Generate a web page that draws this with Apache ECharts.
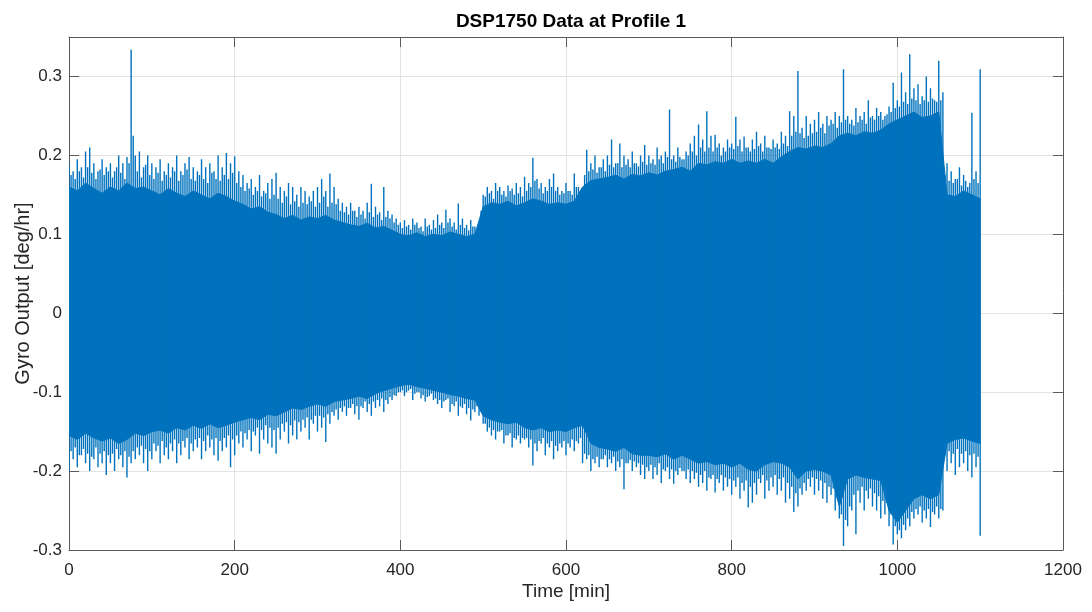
<!DOCTYPE html>
<html>
<head>
<meta charset="utf-8">
<script src="https://cdn.jsdelivr.net/npm/echarts@6/dist/echarts.min.js"></script>
<style>
html,body{margin:0;padding:0;background:#fff;}
#chart{width:1092px;height:612px;}
</style>
</head>
<body>
<div id="chart"></div>
<script>
// ---- data ----
const titleText = 'DSP1750 Data at Profile 1';
const xName = 'Time [min]';
const yName = 'Gyro Output [deg/hr]';
const xTicks = [0, 200, 400, 600, 800, 1000, 1200];
const yTicks = [-0.3, -0.2, -0.1, 0, 0.1, 0.2, 0.3];

// solid core of the noise band, one value every 10 min (t = 0 .. 1100)
const coreStep = 10;
const coreHi = [
  0.16,0.155,0.165,0.158,0.152,0.16,0.155,0.165,0.158,0.16,
  0.155,0.15,0.158,0.152,0.148,0.155,0.15,0.145,0.152,0.148,
  0.142,0.138,0.132,0.135,0.128,0.125,0.12,0.124,0.118,0.122,
  0.12,0.124,0.118,0.115,0.112,0.11,0.114,0.108,0.11,0.105,
  0.1,0.098,0.102,0.097,0.1,0.098,0.103,0.1,0.097,0.1,
  0.135,0.14,0.138,0.142,0.136,0.14,0.145,0.142,0.138,0.14,
  0.138,0.142,0.16,0.168,0.17,0.172,0.175,0.17,0.176,0.174,
  0.178,0.175,0.18,0.182,0.185,0.18,0.19,0.188,0.192,0.19,
  0.195,0.19,0.193,0.19,0.195,0.19,0.198,0.205,0.21,0.208,
  0.212,0.21,0.215,0.225,0.228,0.225,0.23,0.228,0.232,0.24,
  0.245,0.25,0.255,0.248,0.25,0.255,0.15,0.148,0.155,0.15,
  0.145
];
const coreLo = [
  -0.155,-0.16,-0.152,-0.158,-0.162,-0.158,-0.165,-0.16,-0.152,-0.155,
  -0.15,-0.148,-0.152,-0.145,-0.148,-0.142,-0.146,-0.14,-0.145,-0.142,
  -0.138,-0.135,-0.132,-0.135,-0.128,-0.13,-0.125,-0.12,-0.122,-0.118,
  -0.115,-0.118,-0.112,-0.11,-0.108,-0.105,-0.108,-0.102,-0.098,-0.095,
  -0.092,-0.09,-0.093,-0.095,-0.098,-0.1,-0.103,-0.105,-0.108,-0.11,
  -0.13,-0.135,-0.138,-0.14,-0.138,-0.145,-0.148,-0.145,-0.15,-0.148,
  -0.15,-0.145,-0.142,-0.165,-0.17,-0.172,-0.175,-0.17,-0.178,-0.18,
  -0.18,-0.182,-0.178,-0.185,-0.18,-0.185,-0.19,-0.188,-0.192,-0.19,
  -0.195,-0.19,-0.198,-0.2,-0.192,-0.188,-0.19,-0.195,-0.21,-0.2,
  -0.198,-0.2,-0.205,-0.245,-0.21,-0.205,-0.208,-0.21,-0.212,-0.25,
  -0.265,-0.25,-0.235,-0.23,-0.235,-0.23,-0.165,-0.16,-0.158,-0.162,
  -0.165
];

// spike tips, one value every 5 min (t = 0 .. 1100)
const spikeStep = 5;
const spikeHi = [
  0.19,0.18,0.195,0.185,0.205,0.21,0.19,0.18,0.195,0.185,
  0.19,0.18,0.2,0.19,0.198,0.334,0.2,0.205,0.185,0.2,
  0.19,0.185,0.195,0.18,0.19,0.185,0.2,0.18,0.19,0.198,
  0.185,0.18,0.195,0.185,0.19,0.18,0.2,0.185,0.203,0.19,
  0.199,0.18,0.175,0.165,0.17,0.16,0.175,0.155,0.165,0.17,
  0.178,0.16,0.155,0.165,0.16,0.15,0.16,0.155,0.148,0.155,
  0.16,0.17,0.155,0.177,0.16,0.145,0.14,0.135,0.14,0.13,
  0.135,0.13,0.14,0.164,0.135,0.128,0.16,0.13,0.125,0.12,
  0.115,0.118,0.112,0.12,0.115,0.11,0.12,0.112,0.118,0.125,
  0.115,0.131,0.12,0.115,0.139,0.12,0.112,0.118,0.11,0.115,
  0.15,0.16,0.155,0.165,0.16,0.155,0.162,0.158,0.165,0.16,
  0.173,0.165,0.197,0.17,0.165,0.16,0.17,0.177,0.16,0.155,
  0.165,0.155,0.177,0.16,0.15,0.207,0.19,0.2,0.185,0.195,
  0.2,0.22,0.19,0.215,0.2,0.195,0.205,0.19,0.2,0.213,
  0.2,0.195,0.21,0.2,0.205,0.258,0.2,0.21,0.195,0.205,
  0.215,0.225,0.239,0.22,0.256,0.225,0.226,0.215,0.21,0.22,
  0.215,0.249,0.22,0.224,0.21,0.22,0.23,0.215,0.225,0.21,
  0.22,0.215,0.23,0.225,0.256,0.25,0.307,0.235,0.25,0.24,
  0.245,0.255,0.24,0.25,0.245,0.255,0.25,0.309,0.25,0.245,
  0.26,0.25,0.255,0.27,0.25,0.26,0.255,0.25,0.262,0.292,
  0.27,0.305,0.28,0.328,0.285,0.29,0.275,0.3,0.285,0.27,
  0.32,0.28,0.19,0.18,0.17,0.185,0.175,0.16,0.254,0.18,
  0.309
];
const spikeLo = [
  -0.2,-0.185,-0.195,-0.18,-0.19,-0.2,-0.185,-0.195,-0.19,-0.205,
  -0.19,-0.2,-0.185,-0.195,-0.208,-0.19,-0.185,-0.18,-0.19,-0.2,
  -0.185,-0.175,-0.19,-0.18,-0.185,-0.175,-0.19,-0.18,-0.17,-0.185,
  -0.175,-0.17,-0.185,-0.175,-0.17,-0.18,-0.187,-0.175,-0.17,-0.195,
  -0.18,-0.165,-0.17,-0.16,-0.175,-0.155,-0.178,-0.16,-0.165,-0.17,
  -0.178,-0.16,-0.15,-0.165,-0.155,-0.16,-0.15,-0.145,-0.16,-0.14,
  -0.15,-0.145,-0.163,-0.14,-0.13,-0.135,-0.125,-0.13,-0.12,-0.128,
  -0.135,-0.12,-0.125,-0.13,-0.12,-0.118,-0.125,-0.115,-0.11,-0.105,
  -0.1,-0.105,-0.098,-0.11,-0.1,-0.108,-0.112,-0.105,-0.11,-0.115,
  -0.12,-0.11,-0.125,-0.118,-0.13,-0.12,-0.128,-0.136,-0.125,-0.13,
  -0.14,-0.15,-0.155,-0.16,-0.15,-0.165,-0.155,-0.17,-0.16,-0.165,
  -0.16,-0.17,-0.193,-0.175,-0.165,-0.18,-0.17,-0.185,-0.175,-0.17,
  -0.18,-0.17,-0.175,-0.165,-0.19,-0.185,-0.2,-0.19,-0.195,-0.185,
  -0.195,-0.19,-0.2,-0.195,-0.223,-0.19,-0.2,-0.195,-0.205,-0.21,
  -0.2,-0.21,-0.205,-0.215,-0.2,-0.21,-0.216,-0.205,-0.2,-0.21,
  -0.215,-0.21,-0.22,-0.215,-0.225,-0.21,-0.227,-0.215,-0.225,-0.22,
  -0.23,-0.22,-0.235,-0.225,-0.246,-0.24,-0.23,-0.215,-0.235,-0.225,
  -0.22,-0.23,-0.225,-0.24,-0.235,-0.252,-0.245,-0.23,-0.225,-0.22,
  -0.23,-0.225,-0.235,-0.24,-0.23,-0.25,-0.26,-0.295,-0.27,-0.25,
  -0.28,-0.24,-0.25,-0.235,-0.245,-0.25,-0.26,-0.255,-0.27,-0.293,
  -0.28,-0.285,-0.275,-0.27,-0.26,-0.255,-0.265,-0.26,-0.271,-0.255,
  -0.26,-0.25,-0.2,-0.19,-0.205,-0.195,-0.19,-0.2,-0.208,-0.195,
  -0.282
];

// smaller in-between spikes, every 5 min starting at t = 2.5 (t = 2.5 .. 1097.5)
const spike2Start = 2.5;
const spike2Hi = [
  0.175,0.17,0.18,0.172,0.185,0.178,0.17,0.182,0.175,0.18,
  0.172,0.185,0.178,0.17,0.19,0.225,0.18,0.172,0.188,0.175,
  0.17,0.178,0.168,0.175,0.172,0.18,0.168,0.175,0.182,0.17,
  0.168,0.175,0.17,0.165,0.178,0.17,0.168,0.175,0.17,0.178,
  0.165,0.16,0.155,0.158,0.15,0.155,0.148,0.152,0.145,0.15,
  0.145,0.14,0.148,0.138,0.142,0.135,0.14,0.138,0.142,0.135,
  0.14,0.148,0.135,0.14,0.138,0.13,0.128,0.125,0.13,0.122,
  0.125,0.12,0.128,0.122,0.125,0.118,0.122,0.12,0.115,0.112,
  0.108,0.11,0.106,0.112,0.108,0.104,0.11,0.106,0.108,0.112,
  0.108,0.115,0.11,0.106,0.112,0.108,0.105,0.11,0.106,0.13,
  0.148,0.152,0.145,0.155,0.15,0.148,0.155,0.15,0.152,0.148,
  0.155,0.16,0.168,0.158,0.152,0.155,0.16,0.155,0.15,0.152,
  0.155,0.15,0.16,0.155,0.175,0.18,0.182,0.178,0.185,0.18,
  0.188,0.185,0.19,0.185,0.188,0.185,0.19,0.186,0.192,0.188,
  0.19,0.188,0.195,0.19,0.198,0.195,0.192,0.198,0.195,0.2,
  0.205,0.2,0.21,0.205,0.21,0.205,0.21,0.2,0.205,0.21,
  0.208,0.212,0.205,0.21,0.205,0.208,0.212,0.205,0.21,0.208,
  0.21,0.208,0.215,0.212,0.225,0.23,0.228,0.222,0.225,0.228,
  0.23,0.235,0.228,0.238,0.24,0.235,0.242,0.245,0.24,0.238,
  0.242,0.245,0.24,0.248,0.245,0.25,0.245,0.252,0.255,0.26,
  0.262,0.268,0.265,0.272,0.27,0.265,0.27,0.268,0.272,0.268,
  0.27,0.175,0.168,0.165,0.17,0.162,0.168,0.165,0.17,0.165
];
const spike2Lo = [
  -0.175,-0.17,-0.18,-0.172,-0.178,-0.182,-0.17,-0.178,-0.175,-0.18,
  -0.178,-0.172,-0.18,-0.175,-0.182,-0.175,-0.17,-0.168,-0.172,-0.175,
  -0.165,-0.168,-0.162,-0.17,-0.165,-0.16,-0.165,-0.162,-0.158,-0.165,
  -0.16,-0.158,-0.162,-0.155,-0.16,-0.158,-0.162,-0.158,-0.155,-0.16,
  -0.155,-0.15,-0.152,-0.148,-0.15,-0.145,-0.148,-0.142,-0.145,-0.148,
  -0.145,-0.14,-0.138,-0.142,-0.136,-0.138,-0.135,-0.132,-0.135,-0.13,
  -0.13,-0.132,-0.128,-0.125,-0.122,-0.12,-0.118,-0.12,-0.115,-0.118,
  -0.118,-0.112,-0.115,-0.112,-0.11,-0.108,-0.11,-0.106,-0.104,-0.1,
  -0.098,-0.1,-0.096,-0.102,-0.1,-0.104,-0.106,-0.102,-0.108,-0.11,
  -0.112,-0.108,-0.115,-0.112,-0.118,-0.115,-0.12,-0.122,-0.118,-0.125,
  -0.14,-0.145,-0.148,-0.15,-0.148,-0.155,-0.152,-0.158,-0.155,-0.158,
  -0.158,-0.16,-0.165,-0.162,-0.158,-0.165,-0.162,-0.168,-0.165,-0.162,
  -0.165,-0.16,-0.162,-0.158,-0.178,-0.18,-0.185,-0.182,-0.185,-0.18,
  -0.185,-0.182,-0.188,-0.185,-0.19,-0.186,-0.188,-0.19,-0.192,-0.195,
  -0.192,-0.195,-0.19,-0.198,-0.195,-0.198,-0.2,-0.196,-0.2,-0.198,
  -0.2,-0.202,-0.205,-0.2,-0.208,-0.205,-0.21,-0.205,-0.208,-0.21,
  -0.212,-0.208,-0.215,-0.212,-0.22,-0.215,-0.21,-0.205,-0.212,-0.208,
  -0.205,-0.21,-0.208,-0.215,-0.22,-0.228,-0.222,-0.215,-0.21,-0.208,
  -0.21,-0.212,-0.215,-0.22,-0.222,-0.235,-0.255,-0.262,-0.245,-0.23,
  -0.225,-0.22,-0.225,-0.222,-0.228,-0.232,-0.238,-0.24,-0.255,-0.27,
  -0.275,-0.268,-0.26,-0.252,-0.248,-0.245,-0.25,-0.248,-0.252,-0.245,
  -0.248,-0.18,-0.175,-0.178,-0.172,-0.178,-0.175,-0.18,-0.178,-0.182
];

// ---- build chart ----
const blue = '#0072BD';
const axisCol = '#5a5a5a';
const txtCol = '#262626';
const fontFam = '"Liberation Sans", Arial, Helvetica, sans-serif';

const coreData = coreHi.map((v, i) => [i * coreStep, coreLo[i], v]);
const spikeData = spikeHi.map((v, i) => [i * spikeStep, spikeLo[i], v])
  .concat(spike2Hi.map((v, i) => [spike2Start + i * spikeStep, spike2Lo[i], v]));

const xMin = xTicks[0], xMax = xTicks[xTicks.length - 1], xInt = xTicks[1] - xTicks[0];
const yMin = yTicks[0], yInt = 0.1, yMax = 0.35;

const chart = echarts.init(document.getElementById('chart'), null, {renderer: 'canvas'});
const baseX = {
  type: 'value', min: xMin, max: xMax, interval: xInt,
  axisLine: {show: true, onZero: false, lineStyle: {color: axisCol, width: 1}},
  axisTick: {show: true, inside: true, length: 10, lineStyle: {color: axisCol}},
  splitLine: {show: false}
};
const baseY = {
  type: 'value', min: yMin, max: yMax, interval: yInt,
  axisLine: {show: true, onZero: false, lineStyle: {color: axisCol, width: 1}},
  axisTick: {show: true, inside: true, length: 10, lineStyle: {color: axisCol},
    customValues: yTicks},
  splitLine: {show: false}
};

chart.setOption({
  animation: false,
  backgroundColor: '#ffffff',
  title: {
    text: titleText, left: 566, top: 7, textAlign: 'center',
    textStyle: {fontFamily: fontFam, fontSize: 19, fontWeight: 'bold', color: '#000'}
  },
  grid: {left: 69, right: 29, top: 37, bottom: 62, containLabel: false, outerBoundsMode: 'none'},
  xAxis: [
    Object.assign({}, baseX, {
      position: 'bottom',
      name: xName, nameLocation: 'middle', nameGap: 32, nameMoveOverlap: false,
      nameTextStyle: {fontFamily: fontFam, fontSize: 19, color: txtCol},
      axisLabel: {show: true, margin: 12, fontFamily: fontFam, fontSize: 17, color: txtCol,
        formatter: v => String(v)},
      splitLine: {show: true, lineStyle: {color: '#e3e3e3', width: 1}}
    }),
    Object.assign({}, baseX, {position: 'top', axisLabel: {show: false}})
  ],
  yAxis: [
    Object.assign({}, baseY, {
      position: 'left',
      name: yName, nameLocation: 'middle', nameGap: 36, nameRotate: 90, nameMoveOverlap: false,
      nameTextStyle: {fontFamily: fontFam, fontSize: 20, color: txtCol},
      axisLabel: {show: true, margin: 7, fontFamily: fontFam, fontSize: 17, color: txtCol,
        customValues: yTicks,
        formatter: v => (Math.abs(v) < 1e-9 ? '0' : String(Math.round(v * 10) / 10))},
      splitLine: {show: true, lineStyle: {color: '#e3e3e3', width: 1}}
    }),
    Object.assign({}, baseY, {position: 'right', axisLabel: {show: false}})
  ],
  series: [
    {
      // solid core band as one polygon through the library's coordinate system
      type: 'custom', data: coreData, xAxisIndex: 0, yAxisIndex: 0,
      encode: {x: 0, y: [1, 2]}, clip: true, z: 2,
      renderItem: function (params, api) {
        if (params.dataIndex !== 0) return null;
        const top = coreData.map(d => api.coord([d[0], d[2]]));
        const bottom = coreData.map(d => api.coord([d[0], d[1]])).reverse();
        return {
          type: 'polygon',
          shape: {points: top.concat(bottom)},
          style: {fill: blue, stroke: blue, lineWidth: 1}
        };
      }
    },
    {
      type: 'custom', data: spikeData, xAxisIndex: 0, yAxisIndex: 0,
      encode: {x: 0, y: [1, 2]}, clip: true, z: 3,
      renderItem: function (params, api) {
        const t = api.value(0);
        const p1 = api.coord([t, api.value(1)]);
        const p2 = api.coord([t, api.value(2)]);
        return {
          type: 'line',
          shape: {x1: p1[0], y1: p1[1], x2: p2[0], y2: p2[1]},
          style: {stroke: blue, lineWidth: 1.4}
        };
      }
    }
  ]
});
</script>
</body>
</html>
